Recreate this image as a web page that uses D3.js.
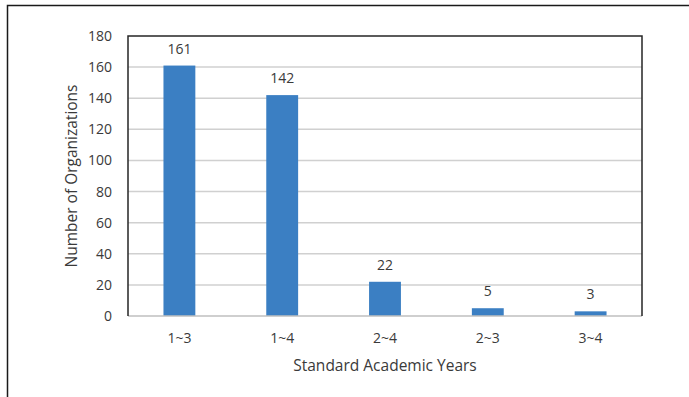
<!DOCTYPE html>
<html>
<head>
<meta charset="utf-8">
<script src="https://cdn.jsdelivr.net/npm/d3@7/dist/d3.min.js"></script>
<style>
  html, body { margin: 0; padding: 0; background: #fff; }
  svg { display: block; }
  text { font-family: "Open Sans", "Noto Sans", sans-serif; fill: #3a3a3a; }
</style>
</head>
<body>
<svg id="chart" width="689" height="397"></svg>
<script>
// Organizations grouped by standard academic years
const categories = ["1~3", "1~4", "2~4", "2~3", "3~4"];
const counts = [161, 142, 22, 5, 3];
const yTicks = [0, 20, 40, 60, 80, 100, 120, 140, 160, 180];

const svg = d3.select("#chart");
const plot = { left: 128, right: 642, top: 36, bottom: 316 };
const fontStack = "'Open Sans', 'Noto Sans', sans-serif";

// outer frame (clipped at right and bottom edges)
svg.append("path")
  .attr("d", "M7.5,397 L7.5,5.5 L689,5.5")
  .attr("fill", "none").attr("stroke", "#1a1a1a").attr("stroke-width", 1.5);

const x = d3.scaleBand().domain(categories).range([plot.left, plot.right]).paddingInner(0.69).paddingOuter(0.345);
const y = d3.scaleLinear().domain([0, 180]).range([plot.bottom, plot.top]);

// gridlines
svg.append("g")
  .selectAll("line").data(yTicks.filter(d => d > 0 && d < 180)).join("line")
  .attr("x1", plot.left).attr("x2", plot.right)
  .attr("y1", d => y(d)).attr("y2", d => y(d))
  .attr("stroke", "#d0d0d0").attr("stroke-width", 1.5);

// bars
svg.append("g")
  .selectAll("rect").data(counts).join("rect")
  .attr("x", (d, i) => x(categories[i]))
  .attr("width", x.bandwidth())
  .attr("y", d => y(d))
  .attr("height", d => y(0) - y(d))
  .attr("fill", "#3b7fc3");

// value labels
svg.append("g")
  .selectAll("text").data(counts).join("text")
  .attr("x", (d, i) => x(categories[i]) + x.bandwidth() / 2)
  .attr("y", d => y(d) - 12)
  .attr("text-anchor", "middle")
  .attr("font-size", 14)
  .text(d => d);

// x axis baseline
svg.append("line")
  .attr("x1", plot.left).attr("x2", plot.right)
  .attr("y1", plot.bottom).attr("y2", plot.bottom)
  .attr("stroke", "#bfbfbf").attr("stroke-width", 1.5);

// plot frame: top, left, right
svg.append("path")
  .attr("d", `M${plot.left},${plot.bottom} L${plot.left},${plot.top} L${plot.right},${plot.top} L${plot.right},${plot.bottom}`)
  .attr("fill", "none").attr("stroke", "#262626").attr("stroke-width", 1.5);

// y axis
const yAxis = svg.append("g")
  .attr("transform", `translate(${plot.left},0)`)
  .call(d3.axisLeft(y).tickValues(yTicks).tickSize(0).tickPadding(16));
yAxis.select(".domain").remove();
yAxis.selectAll("text").attr("font-size", 14).attr("fill", "#3a3a3a")
  .style("font-family", fontStack);

// x axis labels
const xAxis = svg.append("g")
  .attr("transform", `translate(0,${plot.bottom})`)
  .call(d3.axisBottom(x).tickSize(0).tickPadding(17));
xAxis.select(".domain").remove();
xAxis.selectAll("text").attr("font-size", 14).attr("fill", "#3a3a3a")
  .style("font-family", fontStack);

// axis titles
svg.append("text")
  .attr("x", (plot.left + plot.right) / 2).attr("y", 371)
  .attr("text-anchor", "middle").attr("font-size", 15.5)
  .text("Standard Academic Years");

svg.append("text")
  .attr("transform", `translate(77,${(plot.top + plot.bottom) / 2}) rotate(-90)`)
  .attr("text-anchor", "middle").attr("font-size", 15.5)
  .text("Number of Organizations");
</script>
</body>
</html>
